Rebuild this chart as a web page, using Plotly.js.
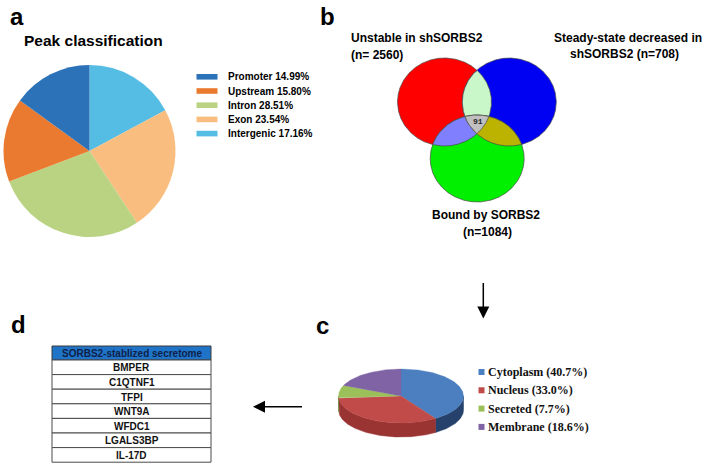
<!DOCTYPE html>
<html><head><meta charset="utf-8">
<script src="https://cdn.plot.ly/plotly-3.0.1.min.js"></script>
<style>html,body{margin:0;padding:0;background:#fff}#chart{width:708px;height:464px}</style>
</head><body><div id="chart"></div>
<script>
// ---------- DATA ----------
// Panel a: peak classification
const peakLabels = ['Promoter', 'Upstream', 'Intron', 'Exon', 'Intergenic'];
const peakValues = [14.99, 15.80, 28.51, 23.54, 17.16];
const peakColors = ['#2b72b8', '#ea7a2f', '#bad383', '#f9be7f', '#55bde3'];
// Panel b: Venn sets
const vennSetNames = ['Unstable in shSORBS2', 'Steady-state decreased in', 'Bound by SORBS2'];
const vennSetNames2 = ['', 'shSORBS2 ', ''];
const vennSetSizes = [2560, 708, 1084];
const vennSizeSep = [' ', '', ''];
const vennTripleCount = [91];
// Panel c: subcellular localisation
const locLabels = ['Cytoplasm', 'Nucleus', 'Secreted', 'Membrane'];
const locValues = [40.7, 33.0, 7.7, 18.6];
const locColors = ['#4b7fbf', '#c04b49', '#9bc05a', '#7f63a5'];
const locSideColors = ['#26416b', '#9a3432', '#62802f', '#4f3a6e'];
// Panel d: table
const secretomeHeader = ['SORBS2-stablized secretome'];
const secretomeGenes = ['BMPER', 'C1QTNF1', 'TFPI', 'WNT9A', 'WFDC1', 'LGALS3BP', 'IL-17D'];

// ---------- LAYOUT HELPERS ----------
const W = 708, H = 464;
const SANS = 'Liberation Sans, Arial, sans-serif';
const SERIF = 'Liberation Serif, Times New Roman, serif';
const traces = [];
const annotations = [];
const shapes = [];
function txt(x, y, text, size, opts) {
  annotations.push(Object.assign({x: x, y: y, xref: 'x', yref: 'y', text: text, showarrow: false,
    font: {family: SANS, size: size, color: '#000'}, xanchor: 'center', yanchor: 'middle'}, opts || {}));
}

// ---------- PANEL A ----------
// clockwise from 12 o'clock: reversed legend order
traces.push({type: 'pie', labels: peakLabels.slice().reverse(), values: peakValues.slice().reverse(), sort: false,
  direction: 'clockwise', rotation: 0, textinfo: 'none', hoverinfo: 'label+percent', showlegend: false,
  marker: {colors: peakColors.slice().reverse(), line: {width: 0}},
  domain: {x: [3.5 / W, 175.5 / W], y: [1 - 237 / H, 1 - 65 / H]}});
txt(93, 40.5, '<b>Peak classification</b>', 15.5);
peakLabels.forEach((lab, i) => {
  const yc = 76.8 + i * 14.2;
  shapes.push({type: 'rect', xref: 'x', yref: 'y', x0: 196.5, x1: 217.5, y0: yc - 2.8, y1: yc + 2.8,
    fillcolor: peakColors[i], line: {width: 0}});
  txt(225.5, yc, '<b>' + lab + ' ' + peakValues[i].toFixed(2) + '%</b>', 10, {xanchor: 'left'});
});

// ---------- PANEL B (Venn) ----------
const circles = [
  {cx: 444.5, cy: 102, rx: 47, ry: 44},
  {cx: 509.3, cy: 102, rx: 47, ry: 44},
  {cx: 477.2, cy: 158.5, rx: 47, ry: 43.5}
];
function ellipsePts(c, n) {
  const p = [];
  for (let i = 0; i < n; i++) { const t = 2 * Math.PI * i / n; p.push([c.cx + c.rx * Math.cos(t), c.cy + c.ry * Math.sin(t)]); }
  return p;
}
function inside(p, c) { const dx = (p[0] - c.cx) / c.rx, dy = (p[1] - c.cy) / c.ry; return dx * dx + dy * dy <= 1 + 1e-9; }
function region(ids) {
  let pts = [];
  ids.forEach(i => ellipsePts(circles[i], 1440).forEach(p => { if (ids.every(j => j === i || inside(p, circles[j]))) pts.push(p); }));
  const mx = pts.reduce((s, p) => s + p[0], 0) / pts.length, my = pts.reduce((s, p) => s + p[1], 0) / pts.length;
  pts.sort((a, b) => Math.atan2(a[1] - my, a[0] - mx) - Math.atan2(b[1] - my, b[0] - mx));
  pts.push(pts[0]);
  return pts;
}
const vennRegions = [
  {ids: [0], color: '#ff0000'}, {ids: [1], color: '#0000f2'}, {ids: [2], color: '#00f000'},
  {ids: [0, 1], color: '#c9f7c9'}, {ids: [0, 2], color: '#8080ff'}, {ids: [1, 2], color: '#bcb200'},
  {ids: [0, 1, 2], color: '#c0c0c0'}
];
vennRegions.forEach(r => {
  const pts = region(r.ids);
  traces.push({type: 'scatter', mode: 'lines', x: pts.map(p => p[0]), y: pts.map(p => p[1]), fill: 'toself',
    fillcolor: r.color, line: {color: '#4a4a4a', width: 0.7}, hoverinfo: 'skip', showlegend: false});
});
txt(477.5, 121.7, '<b>' + vennTripleCount[0] + '</b>', 8, {font: {family: 'Liberation Mono, Courier New, monospace', size: 8, color: '#222'}});
txt(349, 38, '<b>' + vennSetNames[0] + '</b>', 12, {xanchor: 'left'});
txt(349, 55, '<b>(n=' + vennSizeSep[0] + vennSetSizes[0] + ')</b>', 12, {xanchor: 'left'});
txt(627.5, 37.5, '<b>' + vennSetNames[1] + '</b>', 12);
txt(624.5, 53.5, '<b>' + vennSetNames2[1] + '(n=' + vennSizeSep[1] + vennSetSizes[1] + ')</b>', 12);
txt(486, 215, '<b>' + vennSetNames[2] + '</b>', 12);
txt(487.5, 232, '<b>(n=' + vennSizeSep[2] + vennSetSizes[2] + ')</b>', 12);

// ---------- PANEL C (3D pie) ----------
const P = {cx: 401, cy: 396, rx: 62.5, ry: 27, depth: 14};
function rim(t, dy) { return [P.cx + P.rx * Math.sin(t), P.cy - P.ry * Math.cos(t) + (dy || 0)]; }
const totalLoc = locValues.reduce((a, b) => a + b, 0);
let acc = 0;
const arcs = locValues.map(v => { const a0 = acc / totalLoc * 2 * Math.PI; acc += v; return [a0, acc / totalLoc * 2 * Math.PI]; });
// side walls (front half: pi/2 .. 3pi/2)
arcs.forEach((a, i) => {
  const s = Math.max(a[0], Math.PI / 2), e = Math.min(a[1], 3 * Math.PI / 2);
  if (e <= s) return;
  const n = Math.max(4, Math.ceil((e - s) / (Math.PI / 180)));
  const top = [], bot = [];
  for (let k = 0; k <= n; k++) { const t = s + (e - s) * k / n; top.push(rim(t)); bot.push(rim(t, P.depth)); }
  const pts = top.concat(bot.reverse()); pts.push(top[0]);
  traces.push({type: 'scatter', mode: 'lines', x: pts.map(p => p[0]), y: pts.map(p => p[1]), fill: 'toself',
    fillcolor: locSideColors[i], line: {color: locSideColors[i], width: 0.5}, hoverinfo: 'skip', showlegend: false});
});
// top faces
arcs.forEach((a, i) => {
  const pts = [[P.cx, P.cy]];
  const n = Math.max(4, Math.ceil((a[1] - a[0]) / (Math.PI / 180)));
  for (let k = 0; k <= n; k++) pts.push(rim(a[0] + (a[1] - a[0]) * k / n));
  pts.push([P.cx, P.cy]);
  traces.push({type: 'scatter', mode: 'lines', x: pts.map(p => p[0]), y: pts.map(p => p[1]), fill: 'toself',
    fillcolor: locColors[i], line: {color: locColors[i], width: 0.3}, hoverinfo: 'skip', showlegend: false});
});
locLabels.forEach((lab, i) => {
  const yc = 372 + i * 18.3;
  shapes.push({type: 'rect', xref: 'x', yref: 'y', x0: 478.5, x1: 484.5, y0: yc - 3, y1: yc + 3,
    fillcolor: locColors[i], line: {width: 0}});
  txt(486, yc, '<b>' + lab + ' (' + locValues[i].toFixed(1) + '%)</b>', 12,
    {xanchor: 'left', font: {family: SERIF, size: 12, color: '#111'}});
});

// ---------- PANEL D (table drawn as cells) ----------
const T = {x0: 52, x1: 211, top: 346, headH: 14, rowH: 14.6};
shapes.push({type: 'rect', xref: 'x', yref: 'y', x0: T.x0, x1: T.x1, y0: T.top, y1: T.top + T.headH,
  fillcolor: '#1f74c8', line: {color: '#3a3a3a', width: 1}});
txt((T.x0 + T.x1) / 2, T.top + T.headH / 2 + 0.5, '<b>' + secretomeHeader[0] + '</b>', 10,
  {font: {family: SANS, size: 10, color: '#0f1f48'}});
secretomeGenes.forEach((g, i) => {
  const y0 = T.top + T.headH + i * T.rowH;
  shapes.push({type: 'rect', xref: 'x', yref: 'y', x0: T.x0, x1: T.x1, y0: y0, y1: y0 + T.rowH,
    fillcolor: '#ffffff', line: {color: '#4a4a4a', width: 1}});
  txt((T.x0 + T.x1) / 2, y0 + T.rowH / 2 + 0.5, '<b>' + g + '</b>', 10, {font: {family: SANS, size: 10, color: '#111'}});
});

// ---------- panel letters & arrows ----------
txt(17, 16, '<b>a</b>', 24);
txt(327, 16, '<b>b</b>', 24);
txt(322, 325, '<b>c</b>', 24);
txt(18.5, 324, '<b>d</b>', 24);
annotations.push({x: 483.3, y: 318.5, ax: 483.3, ay: 281.5, xref: 'x', yref: 'y', axref: 'x', ayref: 'y',
  text: '', showarrow: true, arrowhead: 2, arrowsize: 1.6, arrowwidth: 1.5, arrowcolor: '#000', standoff: 0});
annotations.push({x: 253, y: 406.7, ax: 303.5, ay: 406.7, xref: 'x', yref: 'y', axref: 'x', ayref: 'y',
  text: '', showarrow: true, arrowhead: 2, arrowsize: 1.6, arrowwidth: 1.5, arrowcolor: '#000', standoff: 0});

const layout = {
  width: W, height: H, margin: {l: 0, r: 0, t: 0, b: 0}, paper_bgcolor: '#fff', plot_bgcolor: 'rgba(0,0,0,0)',
  showlegend: false,
  xaxis: {range: [0, W], visible: false, fixedrange: true, domain: [0, 1]},
  yaxis: {range: [H, 0], visible: false, fixedrange: true, domain: [0, 1]},
  annotations: annotations, shapes: shapes
};
Plotly.newPlot('chart', traces, layout, {displayModeBar: false, staticPlot: true});
</script></body></html>
